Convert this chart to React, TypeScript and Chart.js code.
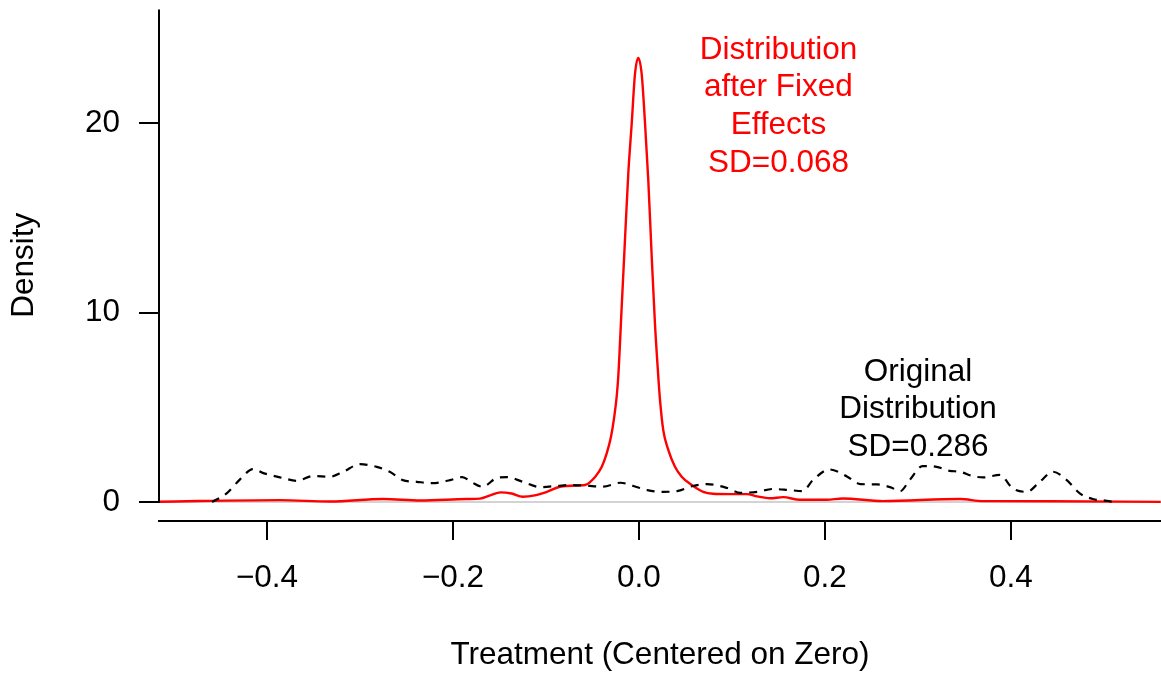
import React, { useEffect, useRef } from "react";
import { Chart, registerables } from "chart.js";

Chart.register(...registerables);

// ---- Data ----
const originalX = [
  -0.459, -0.443, -0.429, -0.415, -0.404, -0.383, -0.368, -0.351, -0.332, -0.318,
  -0.300, -0.282, -0.268, -0.254, -0.239, -0.222, -0.203, -0.190, -0.180, -0.168,
  -0.153, -0.142, -0.125, -0.106, -0.088, -0.074, -0.053, -0.039, -0.020, -0.006,
  0.009, 0.026, 0.041, 0.058, 0.073, 0.095, 0.109, 0.127, 0.144, 0.162,
  0.176, 0.187, 0.205, 0.224, 0.238, 0.256, 0.270, 0.281, 0.291, 0.305,
  0.320, 0.334, 0.345, 0.359, 0.370, 0.388, 0.402, 0.417, 0.431, 0.445,
  0.460, 0.474, 0.488, 0.503, 0.510,
];
const originalY = [
  0.0, 0.47, 1.2, 1.74, 1.53, 1.27, 1.12, 1.37, 1.34, 1.6,
  2.0, 1.86, 1.6, 1.16, 1.07, 1.0, 1.16, 1.32, 1.05, 0.81,
  1.27, 1.32, 1.07, 0.79, 0.85, 0.9, 0.85, 0.81, 1.02, 0.85,
  0.63, 0.54, 0.58, 0.85, 0.95, 0.74, 0.49, 0.54, 0.69, 0.63,
  0.58, 1.16, 1.72, 1.34, 0.95, 0.93, 0.79, 0.58, 1.16, 1.9,
  1.86, 1.65, 1.6, 1.37, 1.3, 1.43, 0.72, 0.54, 1.07, 1.6,
  1.16, 0.46, 0.16, 0.07, 0.0,
];

const fixedX = [
  -0.516, -0.386, -0.332, -0.275, -0.235, -0.185, -0.171, -0.160, -0.149, -0.137,
  -0.125, -0.112, -0.099, -0.085, -0.063, -0.058, -0.047, -0.040, -0.0347, -0.0301,
  -0.0266, -0.024, -0.0223, -0.0186, -0.0151, -0.0115, -0.0078, -0.0043, -0.0008, 0.0029,
  0.0065, 0.0100, 0.0137, 0.0172, 0.0208, 0.0226, 0.0261, 0.0315, 0.0387, 0.0459,
  0.0567, 0.0691, 0.0796, 0.098, 0.116, 0.127, 0.141, 0.155, 0.173, 0.202,
  0.219, 0.262, 0.345, 0.370, 0.442, 0.561,
];
const fixedY = [
  0.02, 0.1, 0.03, 0.16, 0.08, 0.16, 0.18, 0.35, 0.51, 0.45,
  0.28, 0.35, 0.54, 0.81, 0.88, 0.9, 1.34, 1.86, 2.57, 3.45,
  4.5, 5.56, 6.6, 10.3, 13.8, 17.35, 20.0, 22.6, 23.45, 22.6,
  20.0, 17.0, 12.95, 9.4, 6.6, 5.4, 3.8, 2.75, 1.86, 1.34,
  0.9, 0.54, 0.44, 0.42, 0.42, 0.3, 0.2, 0.26, 0.12, 0.12,
  0.19, 0.05, 0.16, 0.05, 0.04, 0.01,
];

const xTickValues = [-0.4, -0.2, 0.0, 0.2, 0.4];
const yTickValues = [0, 10, 20];
const xRange = [-0.5161, 0.5613];
const yRange = [-1, 26];
const refLineValue = 0;

const xTitle = "Treatment (Centered on Zero)";
const yTitle = "Density";

const fixedLabelLines = ["Distribution", "after Fixed", "Effects", "SD=0.068"];
const fixedLabelPos = [0.15, 21];
const originalLabelLines = ["Original", "Distribution", "SD=0.286"];
const originalLabelPos = [0.3, 5];

const FONT_FAMILY = "'Liberation Sans', Arial, Helvetica, sans-serif";
const FONT_SIZE = 31.5;

export default function App() {
  const canvasRef = useRef<HTMLCanvasElement | null>(null);

  useEffect(() => {
    const canvas = canvasRef.current;
    if (!canvas) return;

    const rPlugin = {
      id: "rStyle",
      beforeDatasetsDraw(chart: any) {
        const { ctx, chartArea, scales } = chart;
        const y0 = scales.y.getPixelForValue(refLineValue);
        ctx.save();
        ctx.strokeStyle = "#d3d3d3";
        ctx.lineWidth = 2;
        ctx.beginPath();
        ctx.moveTo(chartArea.left, y0);
        ctx.lineTo(chartArea.right, y0);
        ctx.stroke();
        ctx.restore();
      },
      afterDraw(chart: any) {
        const { ctx, chartArea, scales } = chart;
        ctx.save();
        ctx.strokeStyle = "#000";
        ctx.lineWidth = 2;
        ctx.lineCap = "butt";
        // x axis line
        ctx.beginPath();
        ctx.moveTo(chartArea.left - 1, chartArea.bottom);
        ctx.lineTo(chartArea.right, chartArea.bottom);
        ctx.stroke();
        // y axis line
        const yZero = scales.y.getPixelForValue(yTickValues[0]);
        ctx.beginPath();
        ctx.moveTo(chartArea.left, chartArea.top);
        ctx.lineTo(chartArea.left, yZero + 1);
        ctx.stroke();

        // annotations
        const lineGap = 37.8;
        const drawBlock = (lines: string[], pos: number[], color: string) => {
          const cx = scales.x.getPixelForValue(pos[0]);
          const cy = scales.y.getPixelForValue(pos[1]);
          ctx.fillStyle = color;
          ctx.font = `${FONT_SIZE}px ${FONT_FAMILY}`;
          ctx.textAlign = "center";
          ctx.textBaseline = "alphabetic";
          const n = lines.length;
          lines.forEach((t, i) => {
            const mid = cy + (i - (n - 1) / 2) * lineGap;
            ctx.fillText(t, cx, mid + 11);
          });
        };
        drawBlock(fixedLabelLines, fixedLabelPos, "#ff0000");
        drawBlock(originalLabelLines, originalLabelPos, "#000000");
        ctx.restore();
      },
    };

    const font = { family: FONT_FAMILY, size: FONT_SIZE };

    const chart = new Chart(canvas, {
      type: "scatter",
      data: {
        datasets: [
          {
            label: "Original",
            data: originalX.map((x, i) => ({ x, y: originalY[i] })),
            showLine: true,
            borderColor: "#000000",
            borderWidth: 2.2,
            borderDash: [8, 7],
            pointRadius: 0,
            cubicInterpolationMode: "monotone",
          },
          {
            label: "Fixed",
            data: fixedX.map((x, i) => ({ x, y: fixedY[i] })),
            showLine: true,
            borderColor: "#ff0000",
            borderWidth: 2.4,
            pointRadius: 0,
            cubicInterpolationMode: "monotone",
          },
        ],
      },
      options: {
        animation: false,
        responsive: false,
        maintainAspectRatio: false,
        layout: { padding: { top: 9.6, left: 0, right: 0, bottom: 0 } },
        plugins: {
          legend: { display: false },
          tooltip: { enabled: false },
        },
        scales: {
          x: {
            type: "linear",
            min: xRange[0],
            max: xRange[1],
            afterBuildTicks: (s: any) => {
              s.ticks = xTickValues.map((v) => ({ value: v }));
            },
            afterFit: (s: any) => {
              s.height = 153;
              s.paddingLeft = 0;
              s.paddingRight = 0;
              s.paddingTop = 0;
              s.paddingBottom = 0;
            },
            grid: {
              display: true,
              drawOnChartArea: false,
              drawTicks: true,
              tickLength: 19,
              tickColor: "#000",
              tickWidth: 2,
              color: "#000",
              lineWidth: 2,
            },
            border: { display: false },
            ticks: {
              autoSkip: false,
              maxRotation: 0,
              minRotation: 0,
              padding: 19.6,
              color: "#000",
              font,
              callback: (v: any) => {
                const n = Number(v);
                if (Math.abs(n) < 1e-9) return "0.0";
                return (n < 0 ? "\u2212" : "") + Math.abs(n).toFixed(1);
              },
            },
            title: {
              display: true,
              text: xTitle,
              color: "#000",
              font,
              padding: { top: 0, bottom: 0 },
            },
          },
          y: {
            type: "linear",
            min: yRange[0],
            max: yRange[1],
            afterBuildTicks: (s: any) => {
              s.ticks = yTickValues.map((v) => ({ value: v }));
            },
            afterFit: (s: any) => {
              s.width = 159;
              s.paddingLeft = 0;
              s.paddingRight = 0;
              s.paddingTop = 0;
              s.paddingBottom = 0;
            },
            grid: {
              display: true,
              drawOnChartArea: false,
              drawTicks: true,
              tickLength: 20,
              tickColor: "#000",
              tickWidth: 2,
              color: "#000",
              lineWidth: 2,
            },
            border: { display: false },
            ticks: {
              autoSkip: false,
              padding: 19,
              color: "#000",
              font,
              callback: (v: any) => String(v),
            },
            title: {
              display: true,
              text: yTitle,
              color: "#000",
              font,
              padding: { top: 5.4, bottom: 0 },
            },
          },
        },
      },
      plugins: [rPlugin],
    } as any);

    return () => {
      chart.destroy();
    };
  }, []);

  return (
    <div style={{ position: "fixed", left: 0, top: 0, width: 1161, height: 674, background: "#fff" }}>
      <canvas ref={canvasRef} width={1161} height={674} style={{ display: "block", width: 1161, height: 674 }} />
    </div>
  );
}
